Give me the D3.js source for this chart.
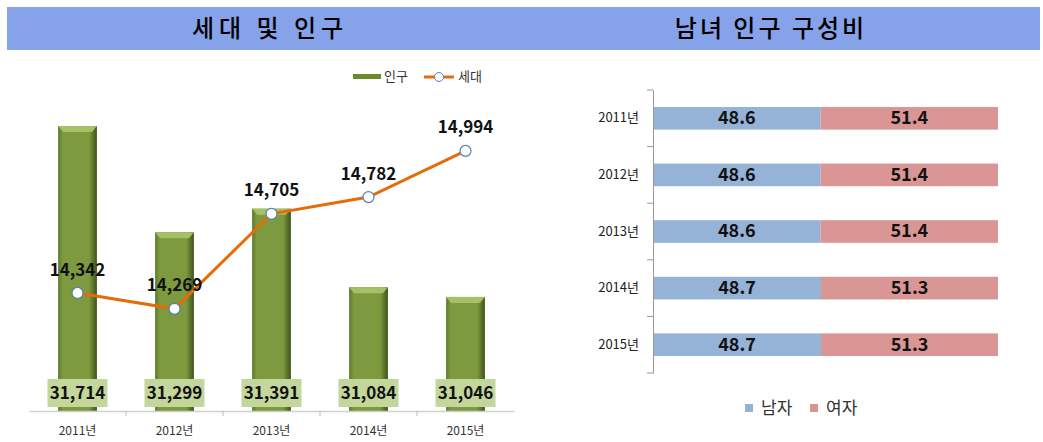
<!DOCTYPE html>
<html>
<head>
<meta charset="utf-8">
<script src="https://cdn.jsdelivr.net/npm/d3@7"></script>
<style>
  body { margin: 0; background: #fff; }
  svg text { font-family: "Noto Sans CJK KR", "Noto Sans", sans-serif; }
</style>
</head>
<body>
<svg id="chart" width="1043" height="442"></svg>
<script>
// data
const years = ['2011년', '2012년', '2013년', '2014년', '2015년']
const population = [31714, 31299, 31391, 31084, 31046]
const households = [14342, 14269, 14705, 14782, 14994]
const male = [48.6, 48.6, 48.6, 48.7, 48.7]
const female = [51.4, 51.4, 51.4, 51.3, 51.3]

const svg = d3.select('#chart')
const fmt = d3.format(',')

// header band
svg.append('rect').attr('x', 7).attr('y', 7).attr('width', 1033).attr('height', 43).attr('fill', '#86a2e8')
svg.append('text').attr('x', 270).attr('y', 30).attr('text-anchor', 'middle').attr('dominant-baseline', 'middle')
    .attr('font-size', 24).attr('font-weight', 500).attr('letter-spacing', 5).attr('fill', '#000').text('세대 및 인구')
svg.append('text').attr('x', 771).attr('y', 30).attr('text-anchor', 'middle').attr('dominant-baseline', 'middle')
    .attr('font-size', 24).attr('font-weight', 500).attr('letter-spacing', 3).attr('fill', '#000').text('남녀 인구 구성비')

// --- left chart: bars + line ---
const defs = svg.append('defs')
const grad = defs.append('linearGradient').attr('id', 'barGrad').attr('x1', 0).attr('x2', 1).attr('y1', 0).attr('y2', 0)
grad.append('stop').attr('offset', '0%').attr('stop-color', '#5f7a2c')
grad.append('stop').attr('offset', '12%').attr('stop-color', '#7d9a3f')
grad.append('stop').attr('offset', '80%').attr('stop-color', '#7d9a3f')
grad.append('stop').attr('offset', '100%').attr('stop-color', '#3f5218')

const x = d3.scaleBand().domain(years).range([29, 514]).paddingInner(0.6).paddingOuter(0.3)
const yBar = d3.scaleLinear().domain([30600, 31800]).range([411, 104])
const yLine = d3.scaleLinear().domain([13800, 15200]).range([411, 106])

const left = svg.append('g')

left.selectAll('.bar')
    .data(years)
    .join('rect')
    .attr('class', 'bar')
    .attr('x', d => x(d))
    .attr('y', (d, i) => yBar(population[i]))
    .attr('width', x.bandwidth())
    .attr('height', (d, i) => 411 - yBar(population[i]))
    .attr('fill', 'url(#barGrad)')

// top bevel
left.selectAll('.bevel')
    .data(years)
    .join('path')
    .attr('class', 'bevel')
    .attr('d', (d, i) => {
        const x0 = x(d), x1 = x0 + x.bandwidth(), y0 = yBar(population[i])
        return `M${x0},${y0}L${x1},${y0}L${x1 - 5},${y0 + 6}L${x0 + 5},${y0 + 6}Z`
    })
    .attr('fill', '#a6c063')

// x axis
const xAxis = left.append('g')
    .attr('transform', 'translate(0,411)')
    .call(d3.axisBottom(x).tickSize(0).tickPadding(15))
xAxis.select('.domain').attr('stroke', '#d0d0d0').attr('stroke-width', 1.5)
xAxis.selectAll('text').attr('font-size', 12).attr('fill', '#333')
left.selectAll('.sep')
    .data(years.slice(1))
    .join('line')
    .attr('x1', d => x(d) - x.step() * x.paddingInner() / 2)
    .attr('x2', d => x(d) - x.step() * x.paddingInner() / 2)
    .attr('y1', 411).attr('y2', 416)
    .attr('stroke', '#bbb')

// bar value boxes
const boxes = left.selectAll('.valbox')
    .data(years)
    .join('g')
    .attr('transform', d => `translate(${x(d) + x.bandwidth() / 2},393)`)
boxes.append('rect').attr('x', -30).attr('y', -14).attr('width', 60).attr('height', 28).attr('fill', '#c3d69b')
boxes.append('text')
    .attr('text-anchor', 'middle').attr('dominant-baseline', 'middle').attr('y', 1)
    .attr('font-size', 17).attr('font-weight', 'bold').attr('fill', '#111')
    .text((d, i) => fmt(population[i]))

// line
const line = d3.line()
    .x((d, i) => x(years[i]) + x.bandwidth() / 2)
    .y(d => yLine(d))
left.append('path').datum(households)
    .attr('d', line).attr('fill', 'none').attr('stroke', '#e46c0a').attr('stroke-width', 3)
left.selectAll('.pt')
    .data(households)
    .join('circle')
    .attr('cx', (d, i) => x(years[i]) + x.bandwidth() / 2)
    .attr('cy', d => yLine(d))
    .attr('r', 5.5)
    .attr('fill', '#fff').attr('stroke', '#4f81bd').attr('stroke-width', 1.2)
left.selectAll('.ptlabel')
    .data(households)
    .join('text')
    .attr('x', (d, i) => x(years[i]) + x.bandwidth() / 2)
    .attr('y', d => yLine(d) - 22)
    .attr('text-anchor', 'middle').attr('dominant-baseline', 'middle')
    .attr('font-size', 17).attr('font-weight', 'bold').attr('fill', '#111')
    .text(d => fmt(d))

// left legend
const lg = svg.append('g')
lg.append('rect').attr('x', 353).attr('y', 74).attr('width', 28).attr('height', 5).attr('fill', '#6b8a30')
lg.append('text').attr('x', 384).attr('y', 77).attr('dominant-baseline', 'middle').attr('font-size', 13).attr('fill', '#333').text('인구')
lg.append('line').attr('x1', 424).attr('x2', 454).attr('y1', 77).attr('y2', 77).attr('stroke', '#e46c0a').attr('stroke-width', 3)
lg.append('circle').attr('cx', 439).attr('cy', 77).attr('r', 4.5).attr('fill', '#fff').attr('stroke', '#4f81bd')
lg.append('text').attr('x', 458).attr('y', 77).attr('dominant-baseline', 'middle').attr('font-size', 13).attr('fill', '#333').text('세대')

// --- right chart: 100% stacked bars ---
const yCat = d3.scaleBand().domain(years).range([90, 373]).paddingInner(0.6).paddingOuter(0.3)
const xPct = d3.scaleLinear().domain([0, 100]).range([653, 998])

const right = svg.append('g')
right.selectAll('.male')
    .data(years)
    .join('rect')
    .attr('x', xPct(0))
    .attr('y', d => yCat(d))
    .attr('width', (d, i) => xPct(male[i]) - xPct(0))
    .attr('height', yCat.bandwidth())
    .attr('fill', '#95b3d7')
right.selectAll('.female')
    .data(years)
    .join('rect')
    .attr('x', (d, i) => xPct(male[i]))
    .attr('y', d => yCat(d))
    .attr('width', (d, i) => xPct(male[i] + female[i]) - xPct(male[i]))
    .attr('height', yCat.bandwidth())
    .attr('fill', '#d99694')
right.selectAll('.mlabel')
    .data(years)
    .join('text')
    .attr('x', (d, i) => xPct(male[i] / 2))
    .attr('y', d => yCat(d) + yCat.bandwidth() / 2 + 1)
    .attr('text-anchor', 'middle').attr('dominant-baseline', 'middle')
    .attr('font-size', 18).attr('font-weight', 'bold').attr('fill', '#111')
    .text((d, i) => male[i].toFixed(1))
right.selectAll('.flabel')
    .data(years)
    .join('text')
    .attr('x', (d, i) => xPct(male[i] + female[i] / 2))
    .attr('y', d => yCat(d) + yCat.bandwidth() / 2 + 1)
    .attr('text-anchor', 'middle').attr('dominant-baseline', 'middle')
    .attr('font-size', 18).attr('font-weight', 'bold').attr('fill', '#111')
    .text((d, i) => female[i].toFixed(1))

// y axis
const yAxis = right.append('g')
    .attr('transform', 'translate(653,0)')
    .call(d3.axisLeft(yCat).tickSize(0).tickPadding(14))
yAxis.select('.domain').attr('stroke', '#999')
yAxis.selectAll('text').attr('font-size', 13).attr('fill', '#222')
    .attr('font-family', '"Liberation Serif", "Noto Sans CJK KR", serif')
right.selectAll('.ytick')
    .data([90, ...years.slice(1).map(d => yCat(d) - yCat.step() * yCat.paddingInner() / 2), 373])
    .join('line')
    .attr('x1', 647).attr('x2', 653)
    .attr('y1', d => d).attr('y2', d => d)
    .attr('stroke', '#999')

// right legend
const rg = svg.append('g')
rg.append('rect').attr('x', 745).attr('y', 404).attr('width', 8).attr('height', 8).attr('fill', '#95b3d7')
rg.append('text').attr('x', 761).attr('y', 409).attr('dominant-baseline', 'middle').attr('font-size', 17).attr('fill', '#333').text('남자')
rg.append('rect').attr('x', 810).attr('y', 404).attr('width', 8).attr('height', 8).attr('fill', '#d99694')
rg.append('text').attr('x', 826).attr('y', 409).attr('dominant-baseline', 'middle').attr('font-size', 17).attr('fill', '#333').text('여자')
</script>
</body>
</html>
